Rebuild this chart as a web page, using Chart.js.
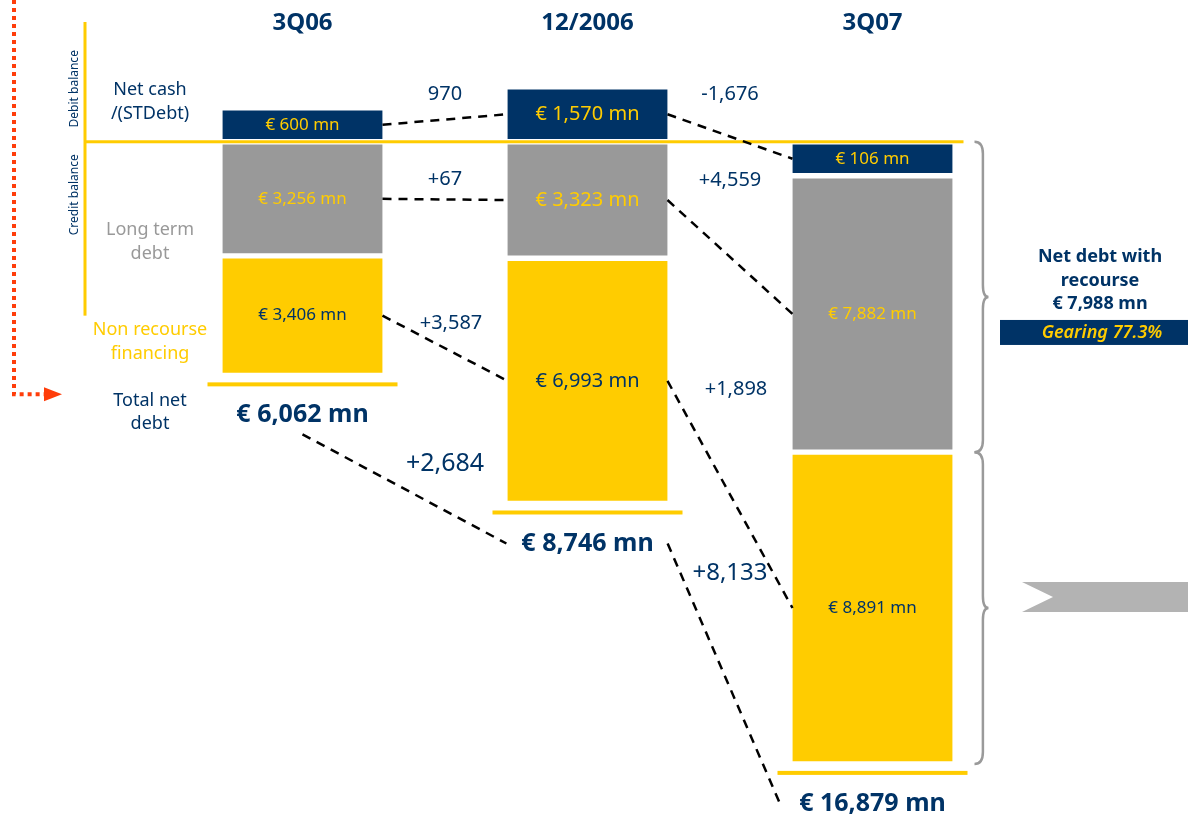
<!DOCTYPE html>
<html>
<head>
<meta charset="utf-8">
<script src="https://cdn.jsdelivr.net/npm/chart.js@4.4.1/dist/chart.umd.min.js"></script>
<style>
  html, body { margin: 0; padding: 0; background: #fff; }
  #wrap { width: 1188px; height: 815px; position: relative; }
</style>
</head>
<body>
<div id="wrap"><canvas id="chart-area"></canvas></div>
<script>
// values in € mn, net cash above the line, debt below it
var categories = ['3Q06', '12/2006', '3Q07'];
var netCash = [600, 1570, -106];
var longTermDebt = [-3256, -3323, -7882];
var nonRecourse = [-3406, -6993, -8891];
var totalNetDebt = [6062, 8746, 16879];

var netCashChange = ['970', '-1,676'];
var longTermChange = ['+67', '+4,559'];
var nonRecourseChange = ['+3,587', '+1,898'];
var totalChange = ['+2,684', '+8,133'];

var recourseDebt = 7988;
var gearing = '77.3%';

var colors = {
    navy: '#003366',
    gold: '#FFCC00',
    grey: '#999999',
    brace: '#9a9a9a',
    chevron: '#b3b3b3',
    red: '#FF3D0A'
};
var FONT = '"Noto Sans", "DejaVu Sans", sans-serif';

function mn(v) {
    return '€ ' + Math.abs(v).toLocaleString('en-US') + ' mn';
}

function text(ctx, str, x, y, size, color, weight, align) {
    ctx.save();
    ctx.font = (weight || '') + ' ' + size + 'px ' + FONT;
    ctx.fillStyle = color;
    ctx.textAlign = align || 'center';
    ctx.textBaseline = 'middle';
    ctx.fillText(str, x, y);
    ctx.restore();
}

function dashed(ctx, x1, y1, x2, y2) {
    ctx.save();
    ctx.strokeStyle = '#000';
    ctx.lineWidth = 2.5;
    ctx.setLineDash([9, 7]);
    ctx.beginPath();
    ctx.moveTo(x1, y1);
    ctx.lineTo(x2, y2);
    ctx.stroke();
    ctx.restore();
}

function brace(ctx, x, y1, y2, w) {
    var mid = (y1 + y2) / 2, r = 12;
    ctx.save();
    ctx.strokeStyle = colors.brace;
    ctx.lineWidth = 2.5;
    ctx.beginPath();
    ctx.moveTo(x, y1);
    ctx.quadraticCurveTo(x + w * 0.6, y1, x + w * 0.6, y1 + r);
    ctx.lineTo(x + w * 0.6, mid - r);
    ctx.quadraticCurveTo(x + w * 0.6, mid, x + w, mid);
    ctx.quadraticCurveTo(x + w * 0.6, mid, x + w * 0.6, mid + r);
    ctx.lineTo(x + w * 0.6, y2 - r);
    ctx.quadraticCurveTo(x + w * 0.6, y2, x, y2);
    ctx.stroke();
    ctx.restore();
    return mid;
}

var annotations = {
    id: 'annotations',
    afterDraw: function(chart) {
        var ctx = chart.ctx;
        var y = chart.scales.y;

        function seg(d, i) {
            var el = chart.getDatasetMeta(d).data[i];
            var top = Math.min(el.y, el.base), bot = Math.max(el.y, el.base);
            if (d > 0) {
                top = Math.max(top, seg(d - 1, i).bot);
            }
            return { x: el.x, l: el.x - el.width / 2, r: el.x + el.width / 2, top: top, bot: bot, mid: (top + bot) / 2 };
        }

        var y0 = y.getPixelForValue(0);
        var last = seg(1, 2);

        // axis lines
        ctx.fillStyle = colors.gold;
        ctx.fillRect(85, y0 - 1.5, last.r + 11 - 85, 3);
        var nr0 = seg(2, 0);
        ctx.fillRect(83.5, 22, 3, nr0.mid - 22);

        // values inside bars
        var series = [netCash, longTermDebt, nonRecourse];
        var txtColor = [colors.gold, colors.gold, colors.navy];
        for (var d = 0; d < 3; d++) {
            for (var i = 0; i < 3; i++) {
                var s = seg(d, i);
                var size = i === 1 ? 20 : 17;
                text(ctx, mn(series[d][i]), s.x, s.mid, size, txtColor[d]);
            }
        }

        // connectors between bars
        var changes = [netCashChange, longTermChange, nonRecourseChange];
        for (d = 0; d < 3; d++) {
            for (i = 0; i < 2; i++) {
                var a = seg(d, i), b = seg(d, i + 1);
                dashed(ctx, a.r, a.mid, b.l, b.mid);
                var gx = (a.r + b.l) / 2;
                if (d === 2) {
                    text(ctx, changes[d][i], gx + 6, a.mid + 8, 20, colors.navy);
                } else {
                    text(ctx, changes[d][i], gx, Math.min(a.mid, b.mid) - 20, 20, colors.navy);
                }
            }
        }

        // totals
        var tot = [];
        for (i = 0; i < 3; i++) {
            var bottom = seg(2, i);
            var lineY = bottom.bot + 9;
            ctx.fillStyle = colors.gold;
            ctx.fillRect(bottom.x - 95, lineY - 2, 190, 4);
            var str = mn(totalNetDebt[i]);
            ctx.font = 'bold 25px ' + FONT;
            tot.push({ x: bottom.x, y: lineY + 31, w: ctx.measureText(str).width });
            text(ctx, str, bottom.x, lineY + 31, 25, colors.navy, 'bold');
        }
        var t0 = [tot[0].x, tot[0].y + 19, tot[1].x - tot[1].w / 2 - 15, tot[1].y];
        var t1 = [tot[1].x + tot[1].w / 2 + 14, tot[1].y, tot[2].x - tot[2].w / 2 - 20, tot[2].y - 2];
        dashed(ctx, t0[0], t0[1], t0[2], t0[3]);
        dashed(ctx, t1[0], t1[1], t1[2], t1[3]);
        text(ctx, totalChange[0], (tot[0].x + tot[1].x) / 2, t0[1] + 0.27 * (t0[3] - t0[1]), 25, colors.navy);
        text(ctx, totalChange[1], (tot[1].x + tot[2].x) / 2, t1[1] + 30, 24, colors.navy);

        // category-side labels
        var ltd0 = seg(1, 0);
        text(ctx, 'Net cash', 150, y0 - 52, 18, colors.navy);
        text(ctx, '/(STDebt)', 150, y0 - 28, 18, colors.navy);
        text(ctx, 'Long term', 150, ltd0.mid + 31, 18, colors.grey);
        text(ctx, 'debt', 150, ltd0.mid + 55, 18, colors.grey);
        text(ctx, 'Non recourse', 150, nr0.mid + 14, 18, colors.gold);
        text(ctx, 'financing', 150, nr0.mid + 38, 18, colors.gold);
        text(ctx, 'Total net', 150, tot[0].y - 14, 18, colors.navy);
        text(ctx, 'debt', 150, tot[0].y + 9, 18, colors.navy);

        ctx.save();
        ctx.translate(75, y0 - 53);
        ctx.rotate(-Math.PI / 2);
        text(ctx, 'Debit balance', 0, 0, 12, colors.navy);
        ctx.restore();
        ctx.save();
        ctx.translate(75, y0 + 53);
        ctx.rotate(-Math.PI / 2);
        text(ctx, 'Credit balance', 0, 0, 12, colors.navy);
        ctx.restore();

        // red dotted arrow
        var ay = tot[0].y - 21;
        ctx.save();
        ctx.strokeStyle = colors.red;
        ctx.lineWidth = 4;
        ctx.setLineDash([4, 4]);
        ctx.beginPath();
        ctx.moveTo(14, 0);
        ctx.lineTo(14, ay);
        ctx.lineTo(44, ay);
        ctx.stroke();
        ctx.fillStyle = colors.red;
        ctx.beginPath();
        ctx.moveTo(44, ay - 7);
        ctx.lineTo(62, ay);
        ctx.lineTo(44, ay + 7);
        ctx.closePath();
        ctx.fill();
        ctx.restore();

        // right side braces
        var nc2 = seg(0, 2), nr2 = seg(2, 2);
        var bx = nr2.r + 22;
        var m1 = brace(ctx, bx, nc2.top, last.bot, 14);
        var m2 = brace(ctx, bx, nr2.top, nr2.bot, 14);

        text(ctx, 'Net debt with', 1100, m1 - 40, 18, colors.navy, 'bold');
        text(ctx, 'recourse', 1100, m1 - 16, 18, colors.navy, 'bold');
        text(ctx, mn(recourseDebt), 1100, m1 + 7, 18, colors.navy, 'bold');
        ctx.fillStyle = colors.navy;
        ctx.fillRect(1000, m1 + 23, 188, 25);
        text(ctx, 'Gearing ' + gearing, 1102, m1 + 36, 18, colors.gold, 'italic 600');

        var cy = m2 - 11;
        ctx.fillStyle = colors.chevron;
        ctx.beginPath();
        ctx.moveTo(1022, cy - 15);
        ctx.lineTo(1188, cy - 15);
        ctx.lineTo(1188, cy + 15);
        ctx.lineTo(1022, cy + 15);
        ctx.lineTo(1053, cy);
        ctx.closePath();
        ctx.fill();
    }
};

window.onload = function() {
    var ctx = document.getElementById('chart-area').getContext('2d');
    var bar = {
        barThickness: 160,
        borderColor: '#ffffff',
        borderWidth: { top: 3, bottom: 3, left: 0, right: 0 },
        borderSkipped: false,
        stack: 'debt'
    };
    window.myBar = new Chart(ctx, {
        type: 'bar',
        data: {
            labels: categories,
            datasets: [
                Object.assign({ label: 'Net cash /(STDebt)', data: netCash, backgroundColor: colors.navy, minBarLength: 34 }, bar),
                Object.assign({ label: 'Long term debt', data: longTermDebt, backgroundColor: colors.grey }, bar),
                Object.assign({ label: 'Non recourse financing', data: nonRecourse, backgroundColor: colors.gold }, bar)
            ]
        },
        options: {
            responsive: true,
            maintainAspectRatio: false,
            animation: false,
            layout: { padding: { left: 160, right: 173, top: 7, bottom: 10 } },
            plugins: {
                legend: { display: false },
                tooltip: { enabled: false }
            },
            scales: {
                x: {
                    position: 'top',
                    stacked: true,
                    grid: { display: false },
                    border: { display: false },
                    ticks: {
                        padding: 2,
                        color: colors.navy,
                        font: { family: FONT, size: 24, weight: 'bold' }
                    }
                },
                y: {
                    stacked: true,
                    display: false,
                    min: -18915,
                    max: 2680
                }
            }
        },
        plugins: [annotations]
    });
};
</script>
</body>
</html>
